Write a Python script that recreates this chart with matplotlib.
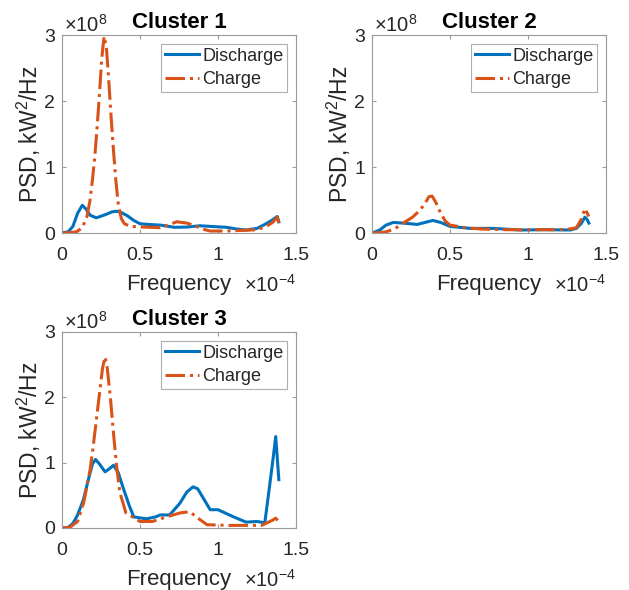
import numpy as np
import matplotlib
matplotlib.use("Agg")
import matplotlib.pyplot as plt

plt.rcParams['font.family'] = ['Liberation Sans', 'DejaVu Sans']
plt.rcParams['mathtext.fontset'] = 'custom'
plt.rcParams['mathtext.rm'] = 'Liberation Sans'

# frequency in units of 1e-4 Hz, PSD in units of 1e8 kW^2/Hz
titles = ["Cluster 1", "Cluster 2", "Cluster 3"]
series_names = ["Discharge", "Charge"]

d1_f = [0, 0.04, 0.07, 0.1, 0.13, 0.155, 0.18, 0.22, 0.28, 0.32, 0.35, 0.38, 0.42, 0.46, 0.50,
        0.55, 0.63, 0.72, 0.80, 0.885, 0.95, 1.056, 1.12, 1.18, 1.25, 1.30, 1.35, 1.38, 1.39]
d1_p = [0, 0.02, 0.1, 0.3, 0.42, 0.36, 0.27, 0.23, 0.28, 0.32, 0.33, 0.31, 0.26, 0.19, 0.14,
        0.13, 0.12, 0.086, 0.09, 0.11, 0.10, 0.086, 0.06, 0.045, 0.07, 0.13, 0.20, 0.25, 0.17]
c1_f = [0, 0.05, 0.094, 0.13, 0.16, 0.18, 0.195, 0.21, 0.225, 0.24, 0.255, 0.27, 0.285, 0.30,
        0.315, 0.33, 0.345, 0.36, 0.38, 0.40, 0.44, 0.52, 0.63, 0.68, 0.735, 0.80, 0.84, 0.90,
        0.95, 1.05, 1.16, 1.25, 1.31, 1.35, 1.38, 1.39]
c1_p = [0, 0.005, 0.02, 0.08, 0.25, 0.5, 0.8, 1.15, 1.6, 2.1, 2.65, 2.98, 2.8, 2.3,
        1.75, 1.25, 0.8, 0.45, 0.22, 0.14, 0.10, 0.09, 0.08, 0.12, 0.17, 0.15, 0.12, 0.06,
        0.03, 0.03, 0.04, 0.05, 0.10, 0.16, 0.24, 0.15]

d2_f = [0, 0.05, 0.09, 0.137, 0.2, 0.29, 0.34, 0.39, 0.44, 0.5, 0.63, 0.78, 0.95, 1.1, 1.27,
        1.31, 1.34, 1.365, 1.38, 1.39]
d2_p = [0, 0.045, 0.12, 0.16, 0.15, 0.13, 0.16, 0.19, 0.16, 0.10, 0.07, 0.07, 0.045, 0.05, 0.045,
        0.07, 0.14, 0.24, 0.2, 0.15]
c2_f = [0, 0.05, 0.094, 0.15, 0.2, 0.26, 0.31, 0.34, 0.365, 0.385, 0.41, 0.44, 0.47, 0.5, 0.6,
        0.7, 0.85, 1.0, 1.15, 1.25, 1.31, 1.34, 1.365, 1.38, 1.39]
c2_p = [0, 0.005, 0.02, 0.07, 0.15, 0.24, 0.35, 0.45, 0.55, 0.56, 0.46, 0.3, 0.18, 0.12, 0.08,
        0.06, 0.05, 0.05, 0.05, 0.055, 0.08, 0.2, 0.37, 0.3, 0.25]

d3_f = [0, 0.04, 0.07, 0.1, 0.137, 0.17, 0.195, 0.215, 0.24, 0.276, 0.30, 0.33, 0.36, 0.39,
        0.43, 0.46, 0.54, 0.6, 0.63, 0.69, 0.756, 0.80, 0.84, 0.87, 0.9, 0.95, 1.0, 1.1, 1.18,
        1.25, 1.3, 1.33, 1.355, 1.37, 1.39]
d3_p = [0, 0.01, 0.07, 0.2, 0.43, 0.75, 0.98, 1.05, 0.98, 0.86, 0.9, 0.96, 0.85, 0.63,
        0.35, 0.17, 0.14, 0.17, 0.2, 0.2, 0.38, 0.55, 0.63, 0.6, 0.48, 0.28, 0.28, 0.17, 0.09,
        0.1, 0.08, 0.63, 1.1, 1.4, 0.74]
c3_f = [0, 0.05, 0.1, 0.14, 0.18, 0.2, 0.22, 0.24, 0.26, 0.276, 0.29, 0.31, 0.33, 0.35, 0.37,
        0.41, 0.5, 0.58, 0.67, 0.756, 0.82, 0.86, 0.93, 1.07, 1.28, 1.35, 1.37, 1.39]
c3_p = [0, 0.01, 0.1, 0.4, 0.89, 1.25, 1.65, 2.05, 2.45, 2.62, 2.45, 2.0, 1.45, 0.95, 0.55,
        0.23, 0.1, 0.1, 0.17, 0.23, 0.25, 0.17, 0.05, 0.04, 0.04, 0.12, 0.15, 0.1]

discharge = [(d1_f, d1_p), (d2_f, d2_p), (d3_f, d3_p)]
charge = [(c1_f, c1_p), (c2_f, c2_p), (c3_f, c3_p)]

blue = '#0072BD'
orange = '#D95319'
frame = '#9a9a9a'
txt = '#262626'

W, H = 629, 590
fig = plt.figure(figsize=(W / 100, H / 100), dpi=100)

# axes boxes in pixels: left, top, right, bottom
boxes = [(62, 35, 296, 233), (372, 35, 606, 233), (62, 332, 296, 528)]

for i, (l, t, r, b) in enumerate(boxes):
    ax = fig.add_axes([l / W, 1 - b / H, (r - l) / W, (b - t) / H])
    ax.plot(*discharge[i], color=blue, lw=2.2, label=series_names[0])
    ax.plot(*charge[i], color=orange, lw=2.2, ls='-.', label=series_names[1])
    ax.set_xlim(0, 1.5)
    ax.set_ylim(0, 3)
    ax.set_xticks([0, 0.5, 1, 1.5])
    ax.set_xticklabels(['0', '0.5', '1', '1.5'])
    ax.set_yticks([0, 1, 2, 3])
    for s in ax.spines.values():
        s.set_color(frame)
        s.set_linewidth(0.8)
    ax.tick_params(direction='in', length=3, width=0.8, color=frame, labelcolor=txt,
                   labelsize=14, top=True, right=True)
    ax.tick_params(axis='x', pad=10)
    ax.tick_params(axis='y', pad=5)
    ax.set_xlabel('Frequency', fontsize=16, color=txt, labelpad=7)
    ax.set_ylabel('PSD, kW$^2$/Hz', fontsize=16.5, color=txt, labelpad=1)
    ax.set_title(titles[i], fontsize=16, fontweight='bold', color='black', pad=5)
    h = (b - t)
    ax.text(0.01, 1 + 3 / h, '×10$^{8}$', transform=ax.transAxes, fontsize=14.5,
            color=txt, ha='left', va='baseline')
    ax.text(1.0, -59 / h, '×10$^{-4}$', transform=ax.transAxes, fontsize=14.5,
            color=txt, ha='right', va='baseline')
    leg = ax.legend(loc='upper right', fontsize=13, frameon=True, fancybox=False,
                    handlelength=1.9, handletextpad=0.15, borderpad=0.2,
                    labelspacing=0.35, borderaxespad=0.5)
    leg.get_frame().set_edgecolor(frame)
    leg.get_frame().set_linewidth(0.8)
    for tx in leg.get_texts():
        tx.set_color(txt)

fig.savefig('out.png', dpi=100)
